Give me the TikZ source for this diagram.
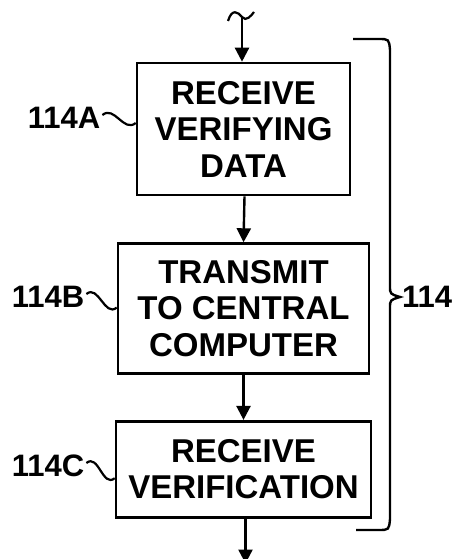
\documentclass[tikz,border=0pt]{standalone}
\usepackage{fontspec}
\setmainfont{Liberation Sans}
\usetikzlibrary{positioning}
\usetikzlibrary{arrows.meta}
\usetikzlibrary{calc}

\tikzset{
  stepbox/.style={draw,line width=2.6pt,align=center,inner sep=0pt,
    font=\bfseries\fontsize{33}{36.5}\selectfont},
  reflabel/.style={font=\bfseries\fontsize{31}{32}\selectfont,inner sep=0pt},
  flow/.style={line width=2.4pt,-{Triangle[length=14pt,width=14pt]}},
  squiggle/.style={line width=2.2pt},
}

\begin{document}
\begin{tikzpicture}[x=1pt,y=-1pt]
\useasboundingbox (0,0) rectangle (457,559);

\node[stepbox,minimum width=213pt,minimum height=132pt] (recv) at (243.5,129) {RECEIVE\\VERIFYING\\DATA};
\node[stepbox,minimum width=251pt,minimum height=130pt,below=46pt of recv] (send) {TRANSMIT\\TO CENTRAL\\COMPUTER};
\node[stepbox,minimum width=255pt,minimum height=96pt,below=45pt of send] (verif) {RECEIVE\\VERIFICATION};

% flow in and out
\coordinate (in) at (242,17);
\draw[squiggle] (228,21) .. controls (232,8) and (238,12) .. (in) .. controls (246,22) and (251,16) .. (254,12);
\draw[flow] (in) -- (recv.north -| in);
\draw[flow] ($(recv.south)+(1,0)$) -- ($(send.north)+(0,0)$);
\draw[flow] ($(send.south)+(0,0)$) -- (send.south |- verif.north);
\coordinate (out) at ($(verif.south)+(2,45)$);
\draw[flow] (verif.south -| out) -- (out);

% reference numerals
\node[reflabel] (lblA) at (64,118) {114A};
\node[reflabel] (lblB) at (48,297) {114B};
\node[reflabel] (lblC) at (48,466) {114C};
\draw[squiggle] (lblA.east) ++(2,-3) .. controls +(12,-10) and +(-12,10) .. ($(recv.west)+(0,-6)$);
\draw[squiggle] (lblB.east) ++(2,-3) .. controls +(12,-10) and +(-12,10) .. ($(send.west)+(0,-1)$);
\draw[squiggle] (lblC.east) ++(2,-3) .. controls +(12,-10) and +(-12,10) .. ($(verif.west)+(0,9)$);

% brace for 114
\draw[line width=2.4pt] (353,39) -- (378,39) .. controls (389,39) .. (390,50) -- (390,286)
  .. controls (390,294) .. (400,297) .. controls (390,300) .. (390,308) -- (390,519)
  .. controls (389,530) .. (378,530) -- (356,530);
\node[reflabel,anchor=west] (grp) at (402,297) {114};
\end{tikzpicture}
\end{document}
